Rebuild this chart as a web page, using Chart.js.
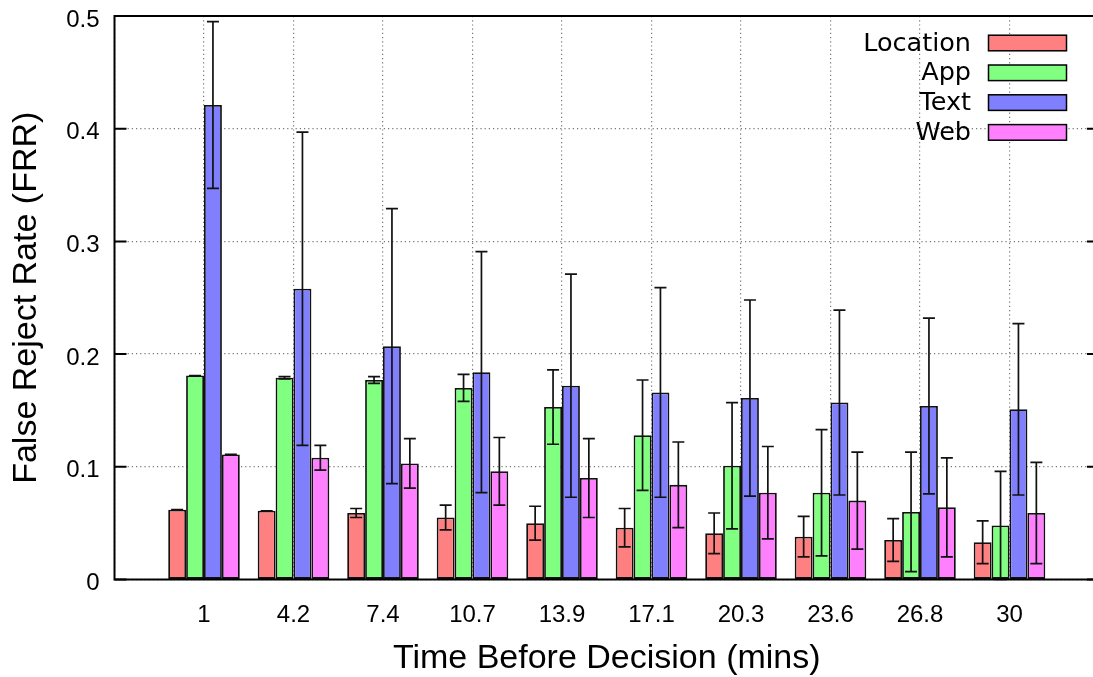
<!DOCTYPE html>
<html>
<head>
<meta charset="utf-8">
<script src="https://cdn.jsdelivr.net/npm/chart.js@4"></script>
<style>
html,body{margin:0;padding:0;background:#fff;overflow:hidden;}
</style>
</head>
<body>
<canvas id="chart" width="1099" height="677"></canvas>
<script>
// data
const categories = ["1","4.2","7.4","10.7","13.9","17.1","20.3","23.6","26.8","30"];
const location_ = [0.062,0.061,0.059,0.055,0.050,0.046,0.041,0.038,0.035,0.033];
const locationErr = [0,0,0.004,0.011,0.015,0.017,0.018,0.018,0.019,0.019];
const app = [0.181,0.179,0.177,0.170,0.153,0.128,0.101,0.077,0.060,0.048];
const appErr = [0,0.001,0.003,0.012,0.033,0.049,0.056,0.056,0.053,0.048];
const text = [0.421,0.258,0.207,0.184,0.172,0.166,0.161,0.157,0.154,0.151];
const textErr = [0.074,0.139,0.122,0.107,0.099,0.093,0.087,0.082,0.078,0.076];
const web = [0.111,0.108,0.103,0.096,0.090,0.084,0.077,0.070,0.064,0.059];
const webErr = [0,0.011,0.022,0.030,0.035,0.038,0.041,0.043,0.044,0.045];
const yTicks = [0,0.1,0.2,0.3,0.4,0.5];

const seriesNames = ["Location","App","Text","Web"];
const seriesColors = ["#ff8080","#80ff80","#8080ff","#ff80ff"];
const seriesVals = [location_,app,text,web];
const seriesErrs = [locationErr,appErr,textErr,webErr];

// empty slot on each side so the groups sit one step in from the frame
const labels = ["",...categories,""];
const pad = arr => [null,...arr,null];

const tickFont = {family:"'Liberation Sans', Arial, sans-serif", size:24};
const titleFont = {family:"'Liberation Sans', Arial, sans-serif", size:34, lineHeight:1.1};

function noPad(s){
  s.paddingTop = 0; s.paddingBottom = 0;
  s.paddingLeft = 0; s.paddingRight = 0;
}

const extras = {
  id:"extras",
  afterDatasetsDraw(chart){
    const ctx = chart.ctx;
    const y = chart.scales.y;
    ctx.save();
    ctx.strokeStyle = "#111";
    ctx.lineWidth = 1.7;
    seriesErrs.forEach((errs,i)=>{
      const meta = chart.getDatasetMeta(i);
      errs.forEach((e,j)=>{
        const bar = meta.data[j+1];
        const v = seriesVals[i][j];
        const top = y.getPixelForValue(v+e);
        const bot = y.getPixelForValue(Math.max(v-e,0));
        ctx.beginPath();
        ctx.moveTo(bar.x,top); ctx.lineTo(bar.x,bot);
        ctx.moveTo(bar.x-6,top); ctx.lineTo(bar.x+6,top);
        ctx.moveTo(bar.x-6,bot); ctx.lineTo(bar.x+6,bot);
        ctx.stroke();
      });
    });
    ctx.restore();
  },
  afterDraw(chart){
    const ctx = chart.ctx;
    const a = chart.chartArea;
    const y = chart.scales.y;
    ctx.save();
    ctx.strokeStyle = "#000";
    ctx.lineWidth = 2;
    ctx.strokeRect(a.left,a.top,a.right-a.left,a.bottom-a.top);
    // inward ticks on both sides
    yTicks.forEach(t=>{
      const py = y.getPixelForValue(t);
      ctx.beginPath();
      ctx.moveTo(a.left,py); ctx.lineTo(a.left+12,py);
      ctx.moveTo(a.right,py); ctx.lineTo(a.right-12,py);
      ctx.stroke();
    });
    // legend, text on the left, swatch on the right
    ctx.font = "25.5px 'DejaVu Sans', sans-serif";
    ctx.textAlign = "right";
    ctx.textBaseline = "middle";
    chart.data.datasets.forEach((ds,i)=>{
      const cy = 43 + i*29.8;
      ctx.fillStyle = "#000";
      ctx.fillText(ds.label,971,cy+1);
      ctx.fillStyle = ds.backgroundColor;
      ctx.fillRect(988.5,cy-7.8,78,15.6);
      ctx.lineWidth = 1.5;
      ctx.strokeStyle = "#000";
      ctx.strokeRect(988.5,cy-7.8,78,15.6);
    });
    ctx.restore();
  }
};

new Chart(document.getElementById("chart"),{
  type:"bar",
  data:{
    labels:labels,
    datasets:seriesNames.map((n,i)=>({
      label:n,
      data:pad(seriesVals[i]),
      backgroundColor:seriesColors[i],
      borderColor:"#111",
      borderWidth:1.8,
      borderSkipped:false,
      categoryPercentage:0.8,
      barPercentage:1.0
    }))
  },
  options:{
    responsive:false,
    devicePixelRatio:1,
    animation:false,
    layout:{padding:{top:16,left:0,right:0,bottom:0}},
    plugins:{legend:{display:false},tooltip:{enabled:false}},
    scales:{
      x:{
        offset:false,
        grid:{offset:false,drawTicks:false,color:"#777",lineWidth:1.2},
        border:{display:false,dash:[1.2,3]},
        ticks:{font:tickFont,color:"#000",padding:21,maxRotation:0,autoSkip:false},
        title:{display:true,text:"Time Before Decision (mins)",font:titleFont,color:"#000",padding:{top:0,bottom:0}},
        afterFit(s){ s.height = 97.5; noPad(s); }
      },
      y:{
        min:0,max:0.5,
        afterBuildTicks(s){ s.ticks = yTicks.map(v=>({value:v})); },
        grid:{drawTicks:false,color:"#777",lineWidth:1.2},
        border:{display:false,dash:[1.2,3]},
        ticks:{font:tickFont,color:"#000",padding:15,labelOffset:4,callback:v=>String(+v.toFixed(1))},
        title:{display:true,text:"False Reject Rate (FRR)",font:titleFont,color:"#000",padding:{top:8,bottom:0}},
        afterFit(s){ s.width = 114.5; noPad(s); }
      }
    }
  },
  plugins:[extras]
});
</script>
</body>
</html>
